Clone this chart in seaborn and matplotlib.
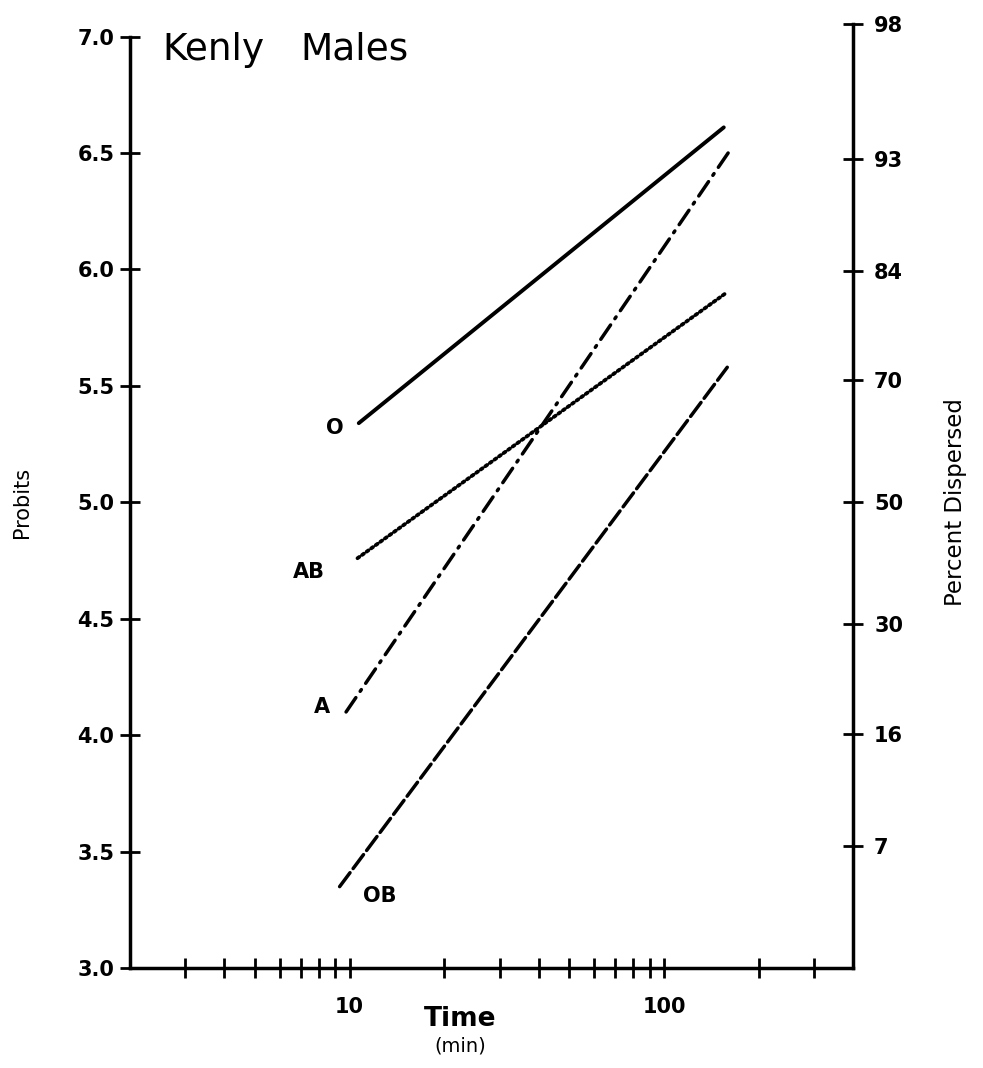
import numpy as np
import pandas as pd
import matplotlib
matplotlib.use("Agg")
import matplotlib.pyplot as plt
import seaborn as sns
from statistics import NormalDist
from matplotlib.ticker import FixedLocator, NullFormatter, FixedFormatter

# ---- data ----
series = ["O", "A", "AB", "OB"]
time_start = [10.7, 9.75, 10.6, 9.3]
time_end = [155, 160, 158, 159]
probit_start = [5.34, 4.10, 4.76, 3.35]
probit_end = [6.61, 6.50, 5.90, 5.58]
label_x = [9.0, 8.2, 7.4, 12.5]
label_y = [5.32, 4.12, 4.70, 3.31]

left_ticks = [3.0, 3.5, 4.0, 4.5, 5.0, 5.5, 6.0, 6.5, 7.0]
pct_ticks = [98, 93, 84, 70, 50, 30, 16, 7]
x_major = [10, 100]
x_minor = [3, 4, 5, 6, 7, 8, 9, 20, 30, 40, 50, 60, 70, 80, 90, 200, 300]

rows = []
for s, t0, t1, p0, p1 in zip(series, time_start, time_end, probit_start, probit_end):
    rows.append({"series": s, "time": t0, "probit": p0})
    rows.append({"series": s, "time": t1, "probit": p1})
df = pd.DataFrame(rows)

styles = {
    "O": dict(linestyle="-", lw=2.8),
    "A": dict(linestyle=(0, (5, 2.2, 0.6, 2.2)), lw=2.5),
    "AB": dict(linestyle=(0, (0.6, 0.9)), lw=2.7),
    "OB": dict(linestyle=(0, (5, 1.5)), lw=2.5),
}

sns.set_theme(style="white")
plt.rcParams["font.family"] = ["DejaVu Sans"]
plt.rcParams["text.color"] = "black"
plt.rcParams["xtick.color"] = "black"
plt.rcParams["ytick.color"] = "black"

fig = plt.figure(figsize=(9.83, 10.68), dpi=100)
ax = fig.add_axes([0.132, 0.0935, 0.736, 0.884])

ymax = 5 + NormalDist().inv_cdf(0.98)

for s in series:
    sub = df[df["series"] == s]
    sns.lineplot(data=sub, x="time", y="probit", ax=ax, color="black",
                 solid_capstyle="round", dash_capstyle="round", **styles[s])

ax.set_xscale("log")
ax.set_xlim(2, 400)
ax.set_ylim(3.0, ymax)

ax.spines["top"].set_visible(False)
ax.spines["right"].set_visible(False)
ax.spines["left"].set_bounds(3.0, 7.0)
for sp in ["left", "bottom"]:
    ax.spines[sp].set_color("black")
    ax.spines[sp].set_linewidth(2.5)

ax.set_yticks(left_ticks)
ax.set_yticklabels([f"{v:.1f}" for v in left_ticks])
ax.xaxis.set_major_locator(FixedLocator(x_major))
ax.xaxis.set_major_formatter(FixedFormatter([str(v) for v in x_major]))
ax.xaxis.set_minor_locator(FixedLocator(x_minor))
ax.xaxis.set_minor_formatter(NullFormatter())

ax.tick_params(axis="y", direction="inout", length=14, width=2.0, color="black",
               labelcolor="black", labelsize=15, pad=4, left=True)
ax.tick_params(axis="x", which="both", direction="inout", length=14, width=2.0,
               color="black", labelcolor="black", labelsize=15, pad=14, bottom=True)
for lab in ax.get_yticklabels() + ax.get_xticklabels():
    lab.set_fontweight("bold")

ax.set_xlabel("")
ax.set_ylabel("")
ax.grid(False)

# right axis
ax2 = ax.twinx()
ax2.set_ylim(3.0, ymax)
ax2.spines["top"].set_visible(False)
ax2.spines["left"].set_visible(False)
ax2.spines["bottom"].set_visible(False)
ax2.spines["right"].set_color("black")
ax2.spines["right"].set_linewidth(2.5)
r_pos = [5 + NormalDist().inv_cdf(p / 100) for p in pct_ticks]
ax2.set_yticks(r_pos)
ax2.set_yticklabels([str(p) for p in pct_ticks])
ax2.tick_params(axis="y", direction="inout", length=14, width=2.0, color="black",
                labelcolor="black", labelsize=15, pad=8, right=True)
for lab in ax2.get_yticklabels():
    lab.set_fontweight("bold")
ax2.grid(False)

# series labels
for s, lx, ly in zip(series, label_x, label_y):
    ax.text(lx, ly, s, ha="center", va="center", fontsize=15,
            fontweight="bold", color="black")

# title words
fig.text(162 / 983, 1 - 60 / 1068, "Kenly", ha="left", va="baseline",
         fontsize=27, color="black")
fig.text(300 / 983, 1 - 60 / 1068, "Males", ha="left", va="baseline",
         fontsize=27, color="black")

fig.text(0.468, 0.046, "Time", ha="center", va="center", fontsize=19, fontweight="bold")
fig.text(0.468, 0.021, "(min)", ha="center", va="center", fontsize=14)
fig.text(0.022, 0.53, "Probits", rotation=90, ha="center", va="center",
         fontsize=15, color="black")
fig.text(0.972, 0.53, "Percent Dispersed", rotation=90, ha="center", va="center",
         fontsize=16.5, color="black")

fig.savefig("out.png", dpi=100, facecolor="white")
